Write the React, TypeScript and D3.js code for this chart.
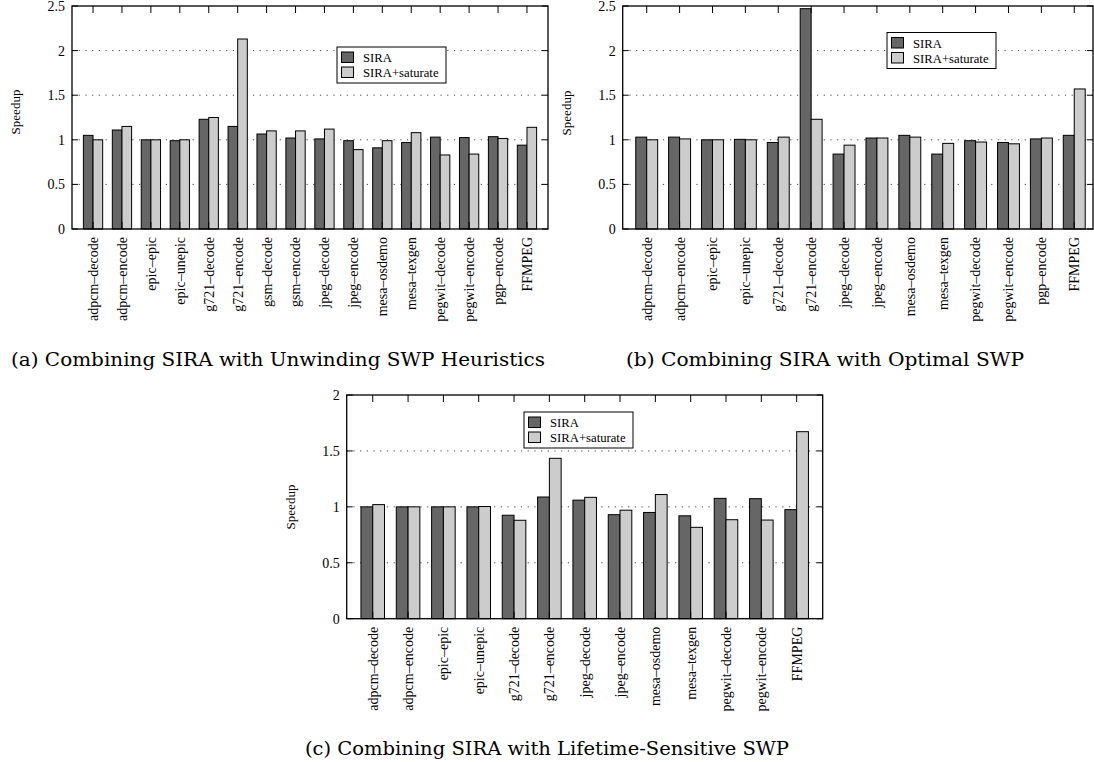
import React from "react";
import * as d3 from "d3";

// Benchmarks and speedups for the three SWP configurations
const benchmarksA = [
  "adpcm–decode", "adpcm–encode", "epic–epic", "epic–unepic", "g721–decode",
  "g721–encode", "gsm–decode", "gsm–encode", "jpeg–decode", "jpeg–encode",
  "mesa–osdemo", "mesa–texgen", "pegwit–decode", "pegwit–encode", "pgp–encode", "FFMPEG",
];
const siraA = [1.05, 1.11, 1.0, 0.99, 1.23, 1.15, 1.065, 1.02, 1.01, 0.99, 0.91, 0.97, 1.03, 1.025, 1.035, 0.94];
const saturateA = [1.0, 1.15, 1.0, 1.0, 1.25, 2.13, 1.1, 1.1, 1.12, 0.89, 0.99, 1.08, 0.83, 0.84, 1.015, 1.14];

const benchmarksB = [
  "adpcm–decode", "adpcm–encode", "epic–epic", "epic–unepic", "g721–decode",
  "g721–encode", "jpeg–decode", "jpeg–encode", "mesa–osdemo", "mesa–texgen",
  "pegwit–decode", "pegwit–encode", "pgp–encode", "FFMPEG",
];
const siraB = [1.03, 1.03, 1.0, 1.005, 0.97, 2.47, 0.84, 1.02, 1.05, 0.84, 0.99, 0.97, 1.01, 1.05];
const saturateB = [1.0, 1.01, 1.0, 1.0, 1.03, 1.23, 0.94, 1.02, 1.03, 0.96, 0.975, 0.955, 1.02, 1.57];

const benchmarksC = [
  "adpcm–decode", "adpcm–encode", "epic–epic", "epic–unepic", "g721–decode",
  "g721–encode", "jpeg–decode", "jpeg–encode", "mesa–osdemo", "mesa–texgen",
  "pegwit–decode", "pegwit–encode", "FFMPEG",
];
const siraC = [1.0, 1.0, 1.0, 1.0, 0.925, 1.088, 1.06, 0.93, 0.95, 0.92, 1.076, 1.073, 0.975];
const saturateC = [1.02, 1.0, 1.0, 1.003, 0.88, 1.434, 1.085, 0.97, 1.11, 0.817, 0.885, 0.882, 1.672];

const yTicksAB = [0, 0.5, 1, 1.5, 2, 2.5];
const yTicksC = [0, 0.5, 1, 1.5, 2];
const seriesNames = ["SIRA", "SIRA+saturate"];

const captionA = "(a) Combining SIRA with Unwinding SWP Heuristics";
const captionB = "(b) Combining SIRA with Optimal SWP";
const captionC = "(c) Combining SIRA with Lifetime-Sensitive SWP";

const DARK = "#666666";
const LIGHT = "#cccccc";
const SERIF = "'Liberation Serif', 'Times New Roman', serif";
const CAPTION_FONT = "'DejaVu Serif', serif";

const fmt = d3.format("~g");

type Frame = { left: number; right: number; top: number; bottom: number };

type PanelProps = {
  cats: string[];
  sira: number[];
  saturate: number[];
  yTicks: number[];
  frame: Frame;
  padL: number;
  padR: number;
  legend: { x: number; y: number };
  ylabelY: number;
};

function BarPanel({ cats, sira, saturate, yTicks, frame, padL, padR, legend, ylabelY }: PanelProps) {
  const x = d3
    .scaleLinear()
    .domain([-padL, cats.length - 1 + padR])
    .range([frame.left, frame.right]);
  const step = x(1) - x(0);
  const bw = step / 3;
  const y = d3
    .scaleLinear()
    .domain([0, yTicks[yTicks.length - 1]])
    .range([frame.bottom, frame.top]);
  const idx = d3.range(cats.length);
  const series = [
    { name: seriesNames[0], values: sira, fill: DARK, off: -1 },
    { name: seriesNames[1], values: saturate, fill: LIGHT, off: 0 },
  ];
  const lw = 109;
  const lh = 36;

  return (
    <g>
      {/* dotted grid */}
      {yTicks.slice(1, -1).map((t) => (
        <line
          key={"g" + t}
          x1={frame.left}
          x2={frame.right}
          y1={y(t)}
          y2={y(t)}
          stroke="#444"
          strokeWidth={1}
          strokeDasharray="1.2,5.5"
        />
      ))}
      {/* bars */}
      {series.map((s) =>
        idx.map((i) => (
          <rect
            key={s.name + i}
            x={x(i) + s.off * bw}
            y={y(s.values[i])}
            width={bw}
            height={y(0) - y(s.values[i])}
            fill={s.fill}
            stroke="#000"
            strokeWidth={1}
          />
        ))
      )}
      {/* y ticks and labels */}
      {yTicks.map((t) => (
        <g key={"y" + t}>
          <line x1={frame.left} x2={frame.left + 6} y1={y(t)} y2={y(t)} stroke="#000" />
          <line x1={frame.right - 6} x2={frame.right} y1={y(t)} y2={y(t)} stroke="#000" />
          <text
            x={frame.left - 7}
            y={y(t)}
            dy="0.35em"
            textAnchor="end"
            fontFamily={SERIF}
            fontSize={14}
          >
            {fmt(t)}
          </text>
        </g>
      ))}
      {/* x ticks and rotated labels */}
      {idx.map((i) => (
        <g key={"x" + i}>
          <line x1={x(i)} x2={x(i)} y1={frame.top} y2={frame.top + 7} stroke="#000" />
          <line x1={x(i)} x2={x(i)} y1={frame.bottom} y2={frame.bottom - 7} stroke="#000" />
          <text
            transform={`translate(${x(i)},${frame.bottom + 8}) rotate(-90)`}
            dy="0.35em"
            textAnchor="end"
            fontFamily={SERIF}
            fontSize={14}
          >
            {cats[i]}
          </text>
        </g>
      ))}
      {/* frame */}
      <rect
        x={frame.left}
        y={frame.top}
        width={frame.right - frame.left}
        height={frame.bottom - frame.top}
        fill="none"
        stroke="#000"
        strokeWidth={1.3}
      />
      {/* y axis title */}
      <text
        transform={`translate(${frame.left - 56.5},${ylabelY}) rotate(-90)`}
        dy="0.35em"
        textAnchor="middle"
        fontFamily={SERIF}
        fontSize={13}
      >
        Speedup
      </text>
      {/* legend */}
      <g transform={`translate(${legend.x},${legend.y})`}>
        <rect x={0} y={0} width={lw} height={lh} fill="#fff" stroke="#000" strokeWidth={1} />
        {series.map((s, k) => (
          <g key={"l" + k} transform={`translate(0,${k * 15})`}>
            <rect x={4.5} y={5} width={12} height={10.5} fill={s.fill} stroke="#000" strokeWidth={1} />
            <text x={26} y={15} fontFamily={SERIF} fontSize={12.7}>
              {s.name}
            </text>
          </g>
        ))}
      </g>
    </g>
  );
}

function Caption({ text, cx, y, width }: { text: string; cx: number; y: number; width: number }) {
  return (
    <text
      x={cx}
      y={y}
      textAnchor="middle"
      fontFamily={CAPTION_FONT}
      fontSize={18}
      textLength={width}
      lengthAdjust="spacingAndGlyphs"
    >
      {text}
    </text>
  );
}

export default function App() {
  return (
    <div style={{ position: "absolute", left: 0, top: 0 }}>
      <svg width={1094} height={762} style={{ display: "block", background: "#fff" }}>
        <BarPanel
          cats={benchmarksA}
          sira={siraA}
          saturate={saturateA}
          yTicks={yTicksAB}
          frame={{ left: 72, right: 548, top: 6, bottom: 229 }}
          padL={0.727}
          padR={0.727}
          legend={{ x: 337, y: 47 }}
          ylabelY={112}
        />
        <BarPanel
          cats={benchmarksB}
          sira={siraB}
          saturate={saturateB}
          yTicks={yTicksAB}
          frame={{ left: 622.7, right: 1093, top: 6, bottom: 229 }}
          padL={0.73}
          padR={0.57}
          legend={{ x: 887, y: 32.5 }}
          ylabelY={113}
        />
        <BarPanel
          cats={benchmarksC}
          sira={siraC}
          saturate={saturateC}
          yTicks={yTicksC}
          frame={{ left: 346.7, right: 822.7, top: 395, bottom: 618.7 }}
          padL={0.737}
          padR={0.737}
          legend={{ x: 524, y: 412 }}
          ylabelY={507}
        />
        <Caption text={captionA} cx={278} y={366} width={534} />
        <Caption text={captionB} cx={825} y={366} width={398} />
        <Caption text={captionC} cx={547} y={755} width={484} />
      </svg>
    </div>
  );
}
